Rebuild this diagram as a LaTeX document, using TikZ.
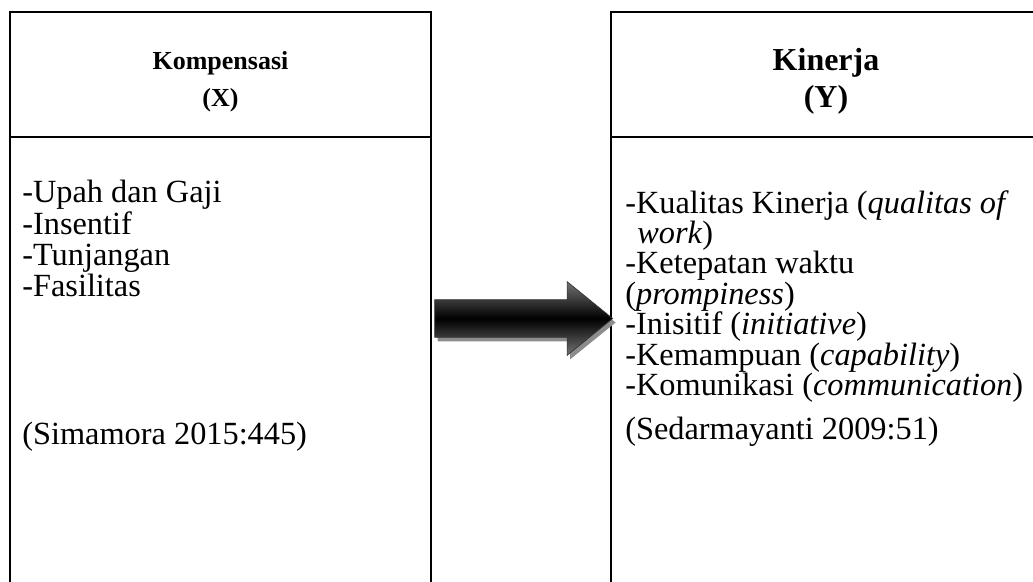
\documentclass[tikz,border=0pt]{standalone}
\usepackage{fontspec}
\setmainfont{Liberation Serif}
\usetikzlibrary{shapes.arrows, shadows, positioning}

\begin{document}
\begin{tikzpicture}[
        headcell/.style={rectangle, draw, line width=1.3pt, minimum height=2.5cm, inner sep=0pt, outer sep=0pt},
        bodycell/.style={rectangle, draw, line width=1.3pt, minimum height=10cm, inner sep=0pt, outer sep=0pt},
        headtext/.style={align=center, inner sep=0pt},
        listtext/.style={align=left, inner sep=0pt, font=\fontsize{18.4}{17.3}\selectfont},
        bigarrow/.style={single arrow, single arrow head extend=0.36cm, single arrow tip angle=78, inner sep=0pt, inner ysep=0.37cm, minimum height=3.56cm, top color=black!55, bottom color=black!55, middle color=black, draw=black!80, thin, drop shadow={shadow xshift=0.06cm, shadow yshift=-0.08cm, fill=black!45, opacity=1}},
        x=0.02cm, y=-0.02cm,
    ]
    \useasboundingbox (0,0) rectangle (1033,581);
    \clip (0,0) rectangle (1033,581);
    \node[headcell, minimum width=8.42cm] (kompHead) at (220.5,74.5) {};
    \node[bodycell, minimum width=8.42cm, below=0pt of kompHead] (kompBody) {};
    \node[headcell, minimum width=8.64cm] (kinHead) at (827,74.5) {};
    \node[bodycell, minimum width=8.64cm, below=0pt of kinHead] (kinBody) {};
    \node[headtext, font=\bfseries\fontsize{14.8}{21}\selectfont] (kompTitle) at (220.5,82) {Kompensasi\\(X)};
    \node[headtext, font=\bfseries\fontsize{18.2}{21}\selectfont] (kinTitle) at (826,81) {Kinerja\\(Y)};
    \node[listtext, anchor=north west, font=\fontsize{18.4}{17.8}\selectfont] (kompList) at (22,180) {-Upah dan Gaji\\-Insentif\\-Tunjangan\\-Fasilitas};
    \node[listtext, anchor=west] (kompRef) at (22,437) {(Simamora 2015:445)};
    \node[listtext, anchor=north west] (kinList) at (625,190) {-Kualitas Kinerja (\textit{qualitas of}\\\hspace*{0.24cm}\textit{work})\\-Ketepatan waktu\\(\textit{prompiness})\\-Inisitif (\textit{initiative})\\-Kemampuan (\textit{capability})\\-Komunikasi (\textit{communication})};
    \node[listtext, anchor=west] (kinRef) at (625,432) {(Sedarmayanti 2009:51)};
    \node[bigarrow] (kompToKin) at (512,318.5) {};
\end{tikzpicture}
\end{document}
